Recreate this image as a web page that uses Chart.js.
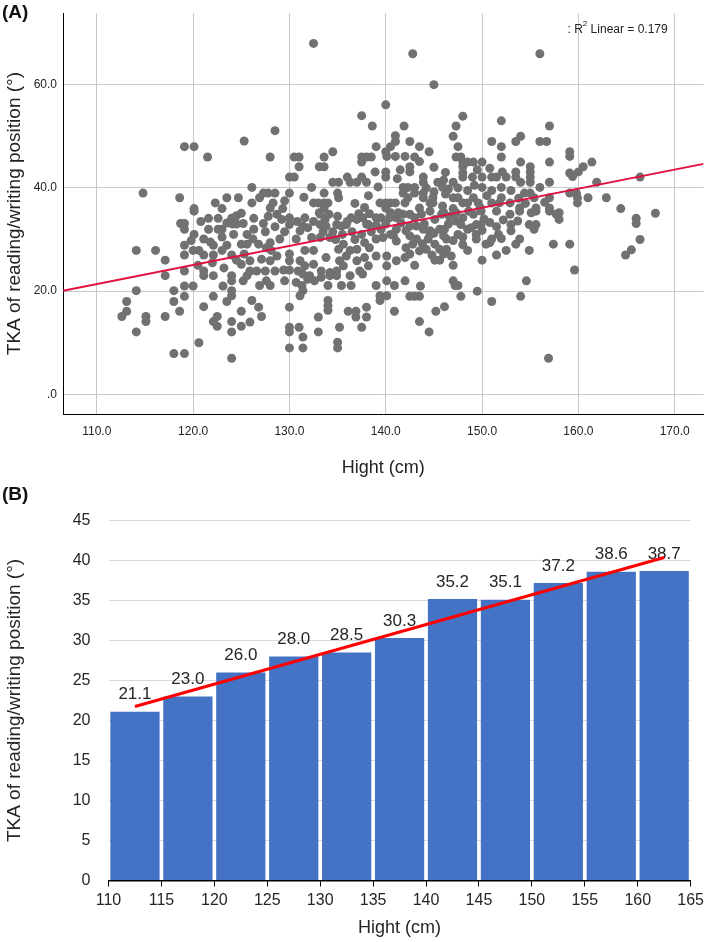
<!DOCTYPE html>
<html>
<head>
<meta charset="utf-8">
<script src="https://cdn.jsdelivr.net/npm/chart.js@4.4.1/dist/chart.umd.min.js"></script>
<style>
  html, body { margin: 0; padding: 0; background: #fff; }
  #page { position: relative; width: 708px; height: 942px; overflow: hidden; }
  .panel-tag { position: absolute; left: 2px; font: bold 19px "Liberation Sans", Arial, sans-serif; color: #111; }
  #boxA { position: absolute; left: 0; top: 0; width: 708px; height: 482px; }
  #boxB { position: absolute; left: 0; top: 484px; width: 708px; height: 458px; }
</style>
</head>
<body>
<div id="page">
  <div id="boxA"><canvas id="chartA" width="708" height="482"></canvas></div>
  <div id="boxB"><canvas id="chartB" width="708" height="458"></canvas></div>
  <div class="panel-tag" style="top:1px">(A)</div>
  <div class="panel-tag" style="top:483px">(B)</div>
</div>
<script>
// (A) height (cm) vs knee angle
var scatterPoints = [
    // left part, above 35
    [119.1,48.0],[120.1,48.0],[121.5,46.0],[125.3,49.1],[114.8,39.0],[118.6,38.1],[120.1,36.0],
    [122.3,37.1],[123.0,36.0],[123.5,38.1],[124.7,38.1],[125.0,35.1],
    // left part, below 35
    [120.1,35.5],[121.6,34.1],[122.6,34.1],[124.0,34.1],[124.5,34.6],[118.7,33.1],[119.1,33.1],[119.1,32.0],
    [120.1,31.0],[121.6,32.0],[122.6,32.0],[123.0,32.0],[125.2,33.1],[124.1,33.0],[124.5,33.0],[125.6,31.0],
    [114.1,27.9],[116.1,27.9],[117.1,26.0],[119.1,28.9],[119.1,27.0],[120.0,27.9],[120.6,27.9],[121.1,30.1],
    [121.1,27.0],[122.1,28.9],[122.1,27.0],[123.0,27.9],[123.5,28.9],[124.0,27.0],[124.5,26.0],[125.0,25.2],
    [125.0,29.1],[125.6,29.1],[117.1,23.0],[119.1,23.9],[121.1,23.9],[121.1,23.0],[122.1,23.0],[124.0,23.0],
    [124.0,22.0],[125.2,22.0],[125.6,23.0],[114.1,20.1],[118.0,20.1],[119.1,21.0],[120.0,21.0],[123.1,21.0],
    [124.0,20.1],[124.0,19.1],[113.1,18.0],[118.0,18.0],[119.1,19.0],[122.1,19.0],[123.5,18.0],[113.1,16.1],
    [112.6,15.1],[115.1,15.1],[115.1,14.1],[117.1,15.1],[118.6,16.1],[121.1,17.0],[122.5,15.1],[122.1,14.1],
    [122.5,13.2],[125.0,16.1],[124.0,14.1],[125.0,13.2],[114.1,12.1],[124.0,12.1],[120.6,10.0],[118.0,7.9],
    [119.1,7.9],[124.0,7.0],
    [121.8,29.5],[123.0,30.5],[124.2,31.0],[122.0,25.5],[123.2,24.5],[120.5,25.0],[119.8,29.8],[120.8,33.5],
    [123.5,33.2],[125.3,27.2],
    // middle part, above 35
    [132.5,68.0],[140.0,56.1],[137.5,54.0],[138.6,52.0],[141.9,52.0],[128.5,51.1],[141.0,50.1],[141.0,49.0],
    [140.5,48.0],[140.0,47.0],[139.0,48.0],[134.5,47.0],[128.0,46.0],[130.5,46.0],[131.0,46.0],[131.0,44.1],
    [133.6,46.0],[133.1,44.1],[133.6,44.1],[137.5,46.0],[138.0,46.0],[138.5,46.0],[137.5,45.0],[140.1,46.1],
    [141.0,46.1],[142.0,46.1],[138.9,43.1],[140.0,43.1],[140.0,42.1],[130.0,42.1],[130.5,42.1],[136.0,42.1],
    [137.0,41.1],[137.5,42.1],[138.0,41.1],[134.5,41.1],[135.1,41.1],[126.1,40.1],[132.3,40.1],[136.3,41.1],
    [127.3,39.0],[127.8,39.0],[128.5,39.0],[130.0,39.0],[133.6,39.0],[135.0,39.0],[135.1,38.1],[141.8,40.1],
    [142.3,40.1],[141.8,39.0],[142.3,38.1],[126.9,38.1],[128.3,37.1],[128.0,36.1],[129.3,36.0],[126.1,37.1],
    [132.5,37.1],[133.0,37.1],[133.6,37.1],[134.0,37.1],[133.6,36.1],[133.1,35.2],[139.4,37.1],[140.0,37.1],
    [140.5,37.1],[141.0,37.1],[140.0,36.1],[140.5,35.2],[142.0,37.1],[141.3,35.2],
    [141.2,41.8],[141.5,43.5],[139.2,40.2],[138.2,38.5],[136.8,37.0],[137.8,36.2],[131.5,38.2],[129.5,37.5],
    // middle part, below 35
    [126.3,34.1],[127.3,33.1],[126.3,32.0],[128.7,34.9],[129.2,33.9],[130.0,34.2],[130.0,32.9],[131.1,31.7],
    [131.4,32.6],[131.9,32.3],[131.6,34.2],[133.2,34.9],[133.7,33.9],[134.1,34.9],[133.2,32.9],[133.8,32.6],
    [134.9,32.9],[135.4,32.6],[135.9,32.9],[136.4,34.2],[137.0,33.9],[137.6,34.2],[138.2,32.9],[139.0,34.2],
    [139.5,34.2],[140.4,34.2],[141.1,34.2],[141.8,34.9],[141.1,32.0],[142.1,31.7],
    [134.5,31.5],[135.5,31.0],[136.5,31.5],[137.5,31.0],[138.5,31.5],[139.5,32.0],[140.5,31.0],[136.8,30.0],
    [138.0,33.0],[139.0,32.8],[140.0,33.0],[140.8,30.8],[141.6,33.2],[136.0,33.5],[135.0,34.5],[137.2,35.0],
    [138.3,35.0],[134.8,30.0],[133.5,31.5],[132.5,33.5],[130.8,33.5],[129.5,31.5],[127.5,31.5],[128.5,32.5],
    [127.8,34.5],
    [126.2,30.1],[126.8,29.1],[127.6,28.4],[128.0,29.4],[129.0,30.1],[128.1,27.9],[130.7,30.1],[132.3,30.4],
    [131.6,27.9],[132.5,27.9],[133.2,30.4],[134.2,30.4],[135.1,28.1],[135.6,29.1],[136.3,27.9],[137.0,28.1],
    [137.8,29.4],[138.3,28.4],[139.0,30.1],[139.7,30.4],[141.1,29.7],[142.1,28.4],
    [125.9,25.9],[127.1,26.2],[128.0,25.9],[128.7,26.8],[130.0,27.2],[130.0,25.9],[131.1,25.9],[131.6,24.9],
    [132.5,25.2],[133.8,26.5],[135.2,25.9],[135.9,26.8],[137.0,25.9],[137.8,26.5],[138.2,24.9],[139.0,26.8],
    [140.1,26.8],[140.1,24.9],[141.1,25.9],[142.0,26.5],[125.9,23.9],[126.6,23.9],[127.5,23.9],[128.5,23.9],
    [129.4,24.1],[130.0,24.1],[130.9,23.9],[131.4,23.3],[132.1,23.0],[133.3,23.9],[134.2,23.6],[134.9,23.9],
    [135.6,24.9],[137.3,23.9],
    [127.6,22.0],[128.0,21.1],[126.9,21.1],[129.5,22.0],[130.7,21.7],[131.3,21.1],[131.9,22.3],[132.6,22.0],
    [133.3,22.7],[134.2,23.0],[134.9,23.0],[135.4,21.1],[136.3,23.0],[136.4,21.1],[137.6,23.3],[134.0,21.1],
    [139.0,21.1],[140.1,22.0],[140.9,21.1],[142.0,22.0],[131.1,19.1],[131.4,20.1],
    [126.1,18.2],[126.8,16.9],[127.1,15.1],[125.9,14.0],[130.0,16.9],[134.0,18.2],[134.0,17.2],[134.0,16.3],
    [133.0,15.0],[136.1,16.1],[136.9,16.1],[136.9,15.0],[138.0,16.9],[138.0,15.0],[139.4,19.1],[139.4,18.2],
    [140.1,19.1],[140.9,16.1],[130.0,13.0],[130.0,12.1],[131.0,13.0],[131.4,11.1],[133.0,12.1],[135.2,13.0],
    [137.5,13.0],[130.0,9.0],[131.4,9.0],[135.0,10.1],[135.0,9.0],
    // right part, above 35
    [142.8,66.0],[156.0,66.0],[145.0,60.0],[148.0,53.9],[147.3,52.0],[147.0,50.0],[152.0,53.0],[157.0,52.0],
    [154.0,50.0],[153.5,49.0],[151.0,49.0],[152.0,48.0],[156.0,49.0],[156.7,49.0],[142.5,49.0],[143.5,48.0],
    [144.5,47.0],[147.5,48.0],[143.0,46.0],[143.5,45.1],[147.3,46.0],[147.8,46.0],[148.0,45.0],[148.5,45.0],
    [149.1,45.0],[150.0,45.0],[148.0,44.1],[148.0,42.9],[148.0,42.1],[152.0,46.0],[154.0,45.0],[155.0,44.1],
    [155.0,43.1],[155.0,42.1],[157.0,45.0],[142.5,44.1],[142.5,43.1],[143.9,42.1],[143.9,41.1],[143.9,39.0],
    [145.4,41.1],[145.9,40.1],[147.0,41.1],[149.0,42.1],[150.0,42.1],[150.0,40.1],[151.0,42.1],[151.5,42.1],
    [152.1,43.1],[152.5,42.1],[152.0,40.1],[152.0,38.1],[153.5,43.1],[153.5,42.1],[154.0,41.1],[155.0,41.1],
    [156.0,40.1],[157.0,41.1],[154.4,39.0],[155.0,39.0],[155.4,38.1],[157.0,38.1],[157.0,36.1],[143.0,40.1],
    [143.0,39.0],[143.9,38.1],[144.9,38.1],[144.9,37.1],[145.9,36.5],[147.0,38.1],[147.5,38.1],[148.0,37.1],
    [148.5,37.1],[149.1,38.1],[149.6,37.1],[151.0,37.1],[151.8,37.1],[152.9,37.1],[153.9,36.1],[155.6,36.1],
    [158.0,35.2],[143.5,36.1],[144.6,37.1],
    [144.2,40.0],[145.0,39.2],[146.2,38.8],[146.5,39.8],[146.0,41.5],[147.5,40.0],[148.5,39.5],[149.2,40.5],
    [150.5,38.5],[151.0,39.5],[149.8,36.2],[147.0,36.0],[153.0,39.5],[153.8,38.0],[156.5,37.2],[154.5,37.0],
    [150.8,43.8],[149.5,43.5],[146.2,43.0],[145.0,44.0],
    // right part, below 35
    [142.5,34.9],[143.0,34.2],[143.7,34.9],[144.6,35.5],[145.1,33.9],[145.8,34.9],[146.6,34.5],[147.3,35.2],
    [148.0,34.2],[149.1,34.9],[149.9,35.5],[151.5,35.5],[152.9,34.9],[153.9,35.5],[155.1,35.2],[155.6,35.5],
    [157.0,35.5],[157.7,34.9],[158.0,33.9],
    [142.5,32.6],[143.2,32.6],[143.9,32.0],[144.6,31.7],[145.6,32.0],[146.1,32.0],[147.3,33.6],[147.8,32.9],
    [148.9,32.3],[149.4,32.9],[149.9,32.9],[150.8,33.3],[153.0,32.9],[153.0,31.7],[153.7,33.6],[154.9,32.9],
    [155.4,32.0],[155.6,32.9],
    [142.5,30.7],[142.8,29.1],[143.2,30.1],[144.4,30.1],[144.6,31.0],[146.0,30.7],[146.3,30.1],[147.5,31.0],
    [148.5,32.0],[149.4,31.0],[149.4,30.1],[150.4,29.1],[151.0,30.1],[151.7,31.0],[150.8,29.4],[153.5,29.1],
    [153.9,30.1],
    [142.5,27.2],[144.2,28.1],[145.1,29.1],[145.6,28.1],[146.0,27.2],[146.3,28.1],[145.1,26.0],[145.6,26.0],
    [143.0,25.0],[147.0,25.0],[148.5,27.9],[150.0,26.0],[151.5,27.0],[152.5,27.9],[154.9,27.9],[157.4,29.1],
    [144.0,33.0],[145.0,31.2],[146.5,33.0],[147.0,29.8],[148.0,30.5],[143.5,27.8],[144.8,27.0],[146.8,26.8],
    [148.0,29.0],[150.0,31.8],[151.5,32.5],[152.0,30.2],[150.2,34.0],[152.2,33.8],[146.0,35.3],[148.6,35.5],
    [143.8,29.2],
    [154.6,22.0],[147.0,22.0],[147.2,21.1],[147.5,21.1],[143.6,21.0],[142.5,19.0],[143.0,19.0],[143.5,19.0],
    [147.8,19.0],[149.5,20.0],[151.0,18.0],[154.0,19.0],[145.2,16.1],[146.1,17.0],[143.5,14.1],[144.5,12.1],
    [156.9,7.0],
    // far right
    [159.1,47.0],[159.1,46.1],[161.4,45.0],[160.5,44.1],[160.0,43.1],[159.4,42.2],[159.1,42.9],[166.4,42.1],
    [161.9,41.1],[159.1,39.0],[159.8,39.0],[159.9,38.1],[159.9,37.1],[161.0,38.1],[162.9,38.1],[164.4,36.0],
    [166.0,34.1],[166.0,33.1],[168.0,35.1],[159.1,29.1],[166.4,30.0],[165.5,28.0],[164.9,27.0],[159.6,24.1]
];

// linear fit shown on the plot
var fitIntercept = -19.35;
var fitSlope = 0.370;
var rSquared = 0.179;

var scatterXTicks = [110, 120, 130, 140, 150, 160, 170];
var scatterYTicks = [0, 20, 40, 60];

// (B) mean angle per 5 cm height band
var bandStart = [110, 115, 120, 125, 130, 135, 140, 145, 150, 155, 160];
var bandMean = [21.1, 23.0, 26.0, 28.0, 28.5, 30.3, 35.2, 35.1, 37.2, 38.6, 38.7];
var bandWidth = 5;
var barXTicks = [110, 115, 120, 125, 130, 135, 140, 145, 150, 155, 160, 165];
var barYTicks = [0, 5, 10, 15, 20, 25, 30, 35, 40, 45];

var FONT = '"Liberation Sans", Arial, sans-serif';
Chart.defaults.font.family = FONT;
Chart.defaults.animation = false;

function fixedTicks(list) {
    return function (scale) {
        scale.ticks = list.map(function (v) { return { value: v }; });
    };
}

// ---------- chart A ----------
var r2Label = {
    id: 'r2Label',
    afterDraw: function (chart) {
        var ctx = chart.ctx, a = chart.chartArea;
        var x = a.right - 136, y = a.top + 16;
        ctx.save();
        ctx.fillStyle = '#222';
        ctx.textBaseline = 'middle';
        ctx.font = '12px ' + FONT;
        ctx.fillText(': R', x, y);
        x += ctx.measureText(': R').width;
        ctx.font = '8px ' + FONT;
        ctx.fillText('2', x, y - 5);
        x += ctx.measureText('2').width;
        ctx.font = '12px ' + FONT;
        ctx.fillText(' Linear = ' + rSquared.toFixed(3), x, y);
        ctx.restore();
    }
};

var xMinA = 106.49, xMaxA = 172.99;

new Chart(document.getElementById('chartA'), {
    type: 'scatter',
    data: {
        datasets: [
            {
                data: scatterPoints.map(function (p) { return { x: p[0], y: p[1] }; }),
                backgroundColor: '#717171',
                borderWidth: 0,
                pointRadius: 4.5,
                order: 1
            },
            {
                type: 'line',
                data: [
                    { x: xMinA, y: fitIntercept + fitSlope * xMinA },
                    { x: xMaxA, y: fitIntercept + fitSlope * xMaxA }
                ],
                borderColor: '#e3103c',
                borderWidth: 2,
                pointRadius: 0,
                fill: false,
                order: 0
            }
        ]
    },
    options: {
        responsive: false,
        layout: { padding: { top: 11, right: 0, left: 0, bottom: 0 } },
        plugins: { legend: { display: false }, tooltip: { enabled: false } },
        scales: {
            x: {
                type: 'linear',
                min: xMinA,
                max: xMaxA,
                afterBuildTicks: fixedTicks(scatterXTicks),
                afterFit: function (s) { s.height = 68; },
                grid: { color: '#c8c8c8', drawTicks: false },
                border: { color: '#000', width: 1 },
                ticks: {
                    padding: 10,
                    color: '#222',
                    font: { size: 12 },
                    callback: function (v) { return v.toFixed(1); }
                },
                title: {
                    display: true,
                    text: 'Hight (cm)',
                    color: '#222',
                    font: { size: 18 },
                    padding: { top: 0, bottom: 3 }
                }
            },
            y: {
                min: -3.8,
                max: 73.85,
                afterBuildTicks: fixedTicks(scatterYTicks),
                afterFit: function (s) { s.width = 63; },
                grid: { color: '#c8c8c8', drawTicks: false },
                border: { color: '#000', width: 1 },
                ticks: {
                    padding: 6,
                    color: '#222',
                    font: { size: 12 },
                    callback: function (v) { return v === 0 ? '.0' : v.toFixed(1); }
                },
                title: {
                    display: true,
                    text: 'TKA of reading/writing position (°)',
                    color: '#222',
                    font: { size: 19 },
                    padding: { top: 3, bottom: 0 }
                }
            }
        }
    },
    plugins: [r2Label]
});

// ---------- chart B ----------
// least squares line through the band means
function bandFit() {
    var mids = bandStart.map(function (s) { return s + bandWidth / 2; });
    var n = mids.length, mx = 0, my = 0, sxy = 0, sxx = 0;
    for (var i = 0; i < n; i++) { mx += mids[i] / n; my += bandMean[i] / n; }
    for (var j = 0; j < n; j++) {
        sxy += (mids[j] - mx) * (bandMean[j] - my);
        sxx += (mids[j] - mx) * (mids[j] - mx);
    }
    var b = sxy / sxx, a = my - b * mx;
    return [
        { x: mids[0], y: a + b * mids[0] },
        { x: mids[n - 1], y: a + b * mids[n - 1] }
    ];
}

var barLabels = {
    id: 'barLabels',
    afterDatasetDraw: function (chart, args) {
        if (args.index !== 0) return;
        var ctx = chart.ctx;
        ctx.save();
        ctx.fillStyle = '#262626';
        ctx.font = '17px ' + FONT;
        ctx.textAlign = 'center';
        ctx.textBaseline = 'middle';
        args.meta.data.forEach(function (bar, i) {
            ctx.fillText(bandMean[i].toFixed(1), bar.x, bar.y - 17);
        });
        ctx.restore();
    }
};

new Chart(document.getElementById('chartB'), {
    type: 'bar',
    data: {
        datasets: [
            {
                data: bandStart.map(function (s, i) { return { x: s + bandWidth / 2, y: bandMean[i] }; }),
                backgroundColor: '#4472c4',
                borderWidth: 0,
                categoryPercentage: 1,
                barPercentage: 0.93,
                order: 1
            },
            {
                type: 'line',
                data: bandFit(),
                borderColor: '#ff0000',
                borderWidth: 3,
                pointRadius: 0,
                fill: false,
                order: 0
            }
        ]
    },
    options: {
        responsive: false,
        layout: { padding: { top: 36.5, right: 10, left: 0, bottom: 0 } },
        plugins: { legend: { display: false }, tooltip: { enabled: false } },
        scales: {
            x: {
                type: 'linear',
                offset: false,
                min: 110,
                max: 165,
                afterBuildTicks: fixedTicks(barXTicks),
                afterFit: function (s) { s.height = 61.5; },
                grid: { display: true, drawOnChartArea: false, drawTicks: true, tickLength: 6, tickColor: '#000', offset: false },
                border: { color: '#000', width: 1.5 },
                ticks: { padding: 4, color: '#262626', font: { size: 16 } },
                title: {
                    display: true,
                    text: 'Hight (cm)',
                    color: '#262626',
                    font: { size: 18 },
                    padding: { top: 0, bottom: 3 }
                }
            },
            y: {
                min: 0,
                max: 45,
                afterBuildTicks: fixedTicks(barYTicks),
                afterFit: function (s) { s.width = 108.5; },
                grid: { color: '#d9d9d9', drawTicks: false },
                border: { display: false },
                ticks: { padding: 18, color: '#262626', font: { size: 16 } },
                title: {
                    display: true,
                    text: 'TKA of reading/writing position (°)',
                    color: '#262626',
                    font: { size: 19 },
                    padding: { top: 3, bottom: 0 }
                }
            }
        }
    },
    plugins: [barLabels]
});
</script>
</body>
</html>
